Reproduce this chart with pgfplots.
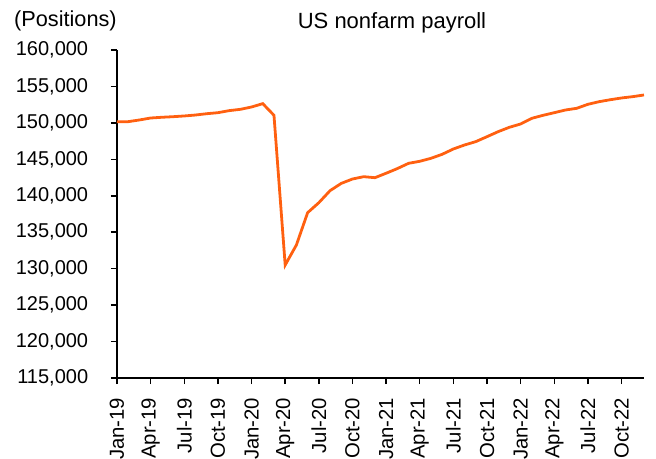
\documentclass[border=0pt]{standalone}
\usepackage{fontspec}
\setmainfont{Liberation Sans}
\usepackage{pgfplots}
\pgfplotsset{compat=1.18}
\definecolor{payorange}{RGB}{255,96,16}

\begin{document}
\begin{tikzpicture}
\fontsize{20bp}{24bp}\selectfont
\useasboundingbox (-117bp,-81bp) rectangle (539bp,378bp);
\begin{axis}[
    scale only axis,
    width=527bp,
    height=328bp,
    xmin=0, xmax=47,
    ymin=115000, ymax=160000,
    ytick={115000,120000,...,160000},
    yticklabels={{115,000},{120,000},{125,000},{130,000},{135,000},{140,000},{145,000},{150,000},{155,000},{160,000}},
    xtick={0,3,...,45},
    xticklabels={Jan-19,Apr-19,Jul-19,Oct-19,Jan-20,Apr-20,Jul-20,Oct-20,Jan-21,Apr-21,Jul-21,Oct-21,Jan-22,Apr-22,Jul-22,Oct-22},
    axis lines*=left,
    axis line style={black, line width=1.6pt},
    tick style={black, line width=1.5pt},
    tick align=outside,
    major tick length=6bp,
    xticklabel style={yshift=-7bp, rotate=90, anchor=east, font=\fontsize{20.3bp}{24bp}\selectfont},
    yticklabel style={xshift=-16bp, font=\fontsize{20bp}{24bp}\selectfont},
    scaled y ticks=false,
    clip=false,
]
\addplot[payorange, line width=2.8pt] coordinates {
(0,150170)(1,150170)(2,150400)(3,150670)(4,150770)(5,150850)
(6,150950)(7,151080)(8,151260)(9,151400)(10,151680)(11,151860)
(12,152180)(13,152640)(14,151040)(15,130500)(16,133250)(17,137680)
(18,139050)(19,140700)(20,141700)(21,142300)(22,142620)(23,142480)
(24,143090)(25,143730)(26,144450)(27,144730)(28,145140)(29,145690)
(30,146420)(31,146970)(32,147430)(33,148110)(34,148800)(35,149400)
(36,149850)(37,150630)(38,151040)(39,151400)(40,151770)(41,152000)
(42,152550)(43,152910)(44,153180)(45,153420)(46,153600)(47,153830)
};
\end{axis}
\node[anchor=base west, inner sep=0pt, font=\fontsize{21.7bp}{26bp}\selectfont] at (-103bp,351bp) {(Positions)};
\node[anchor=base, inner sep=0pt, font=\fontsize{22bp}{26bp}\selectfont] at (275bp,349bp) {US nonfarm payroll};
\end{tikzpicture}
\end{document}
